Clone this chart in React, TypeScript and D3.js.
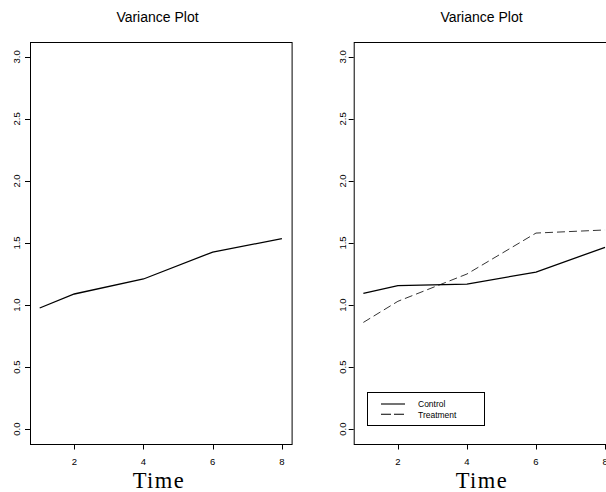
import React from "react";
import * as d3 from "d3";

// Time points and per-group variance estimates
const timePoints = [1, 2, 4, 6, 8];
const pooledVariance = [0.976, 1.089, 1.21, 1.427, 1.535];
const controlVariance = [1.094, 1.156, 1.169, 1.266, 1.465];
const treatmentVariance = [0.86, 1.03, 1.25, 1.58, 1.605];

const xTicks = [2, 4, 6, 8];
const yTicks = [0, 0.5, 1, 1.5, 2, 2.5, 3];
const legendLabels = ["Control", "Treatment"];

const W = 606;
const H = 492;
const TOP = 42;
const BOTTOM = 444;
const SANS = "'Liberation Sans', Arial, Helvetica, sans-serif";
const SERIF = "'Liberation Serif', 'Times New Roman', serif";

const yScale = d3.scaleLinear().domain([-0.12, 3.12]).range([BOTTOM, TOP]);

type Series = { values: number[]; dash?: string; width: number };

function Panel({ left, right, ylabX, titleX, labelX, series, legend }: {
  left: number; right: number; ylabX: number; titleX: number; labelX: number;
  series: Series[]; legend?: boolean;
}) {
  const x = d3.scaleLinear().domain([0.72, 8.28]).range([left, right]);
  const line = (vals: number[]) =>
    d3.line<number>().x((_, i) => x(timePoints[i])).y((v) => yScale(v))(vals) || "";
  return (
    <g>
      <text x={titleX} y={22} textAnchor="middle" fontFamily={SANS} fontSize={14}>Variance Plot</text>
      <rect x={left + 0.5} y={TOP + 0.5} width={right - left} height={BOTTOM - TOP} fill="none" stroke="#000" strokeWidth={1} />
      {yTicks.map((t) => (
        <g key={t}>
          <line x1={left - 5} x2={left} y1={Math.round(yScale(t)) + 0.5} y2={Math.round(yScale(t)) + 0.5} stroke="#000" />
          <text transform={`translate(${ylabX},${yScale(t)}) rotate(-90)`} textAnchor="middle" fontFamily={SANS} fontSize={9.5}>
            {t.toFixed(1)}
          </text>
        </g>
      ))}
      {xTicks.map((t) => (
        <g key={t}>
          <line x1={Math.round(x(t)) + 0.5} x2={Math.round(x(t)) + 0.5} y1={BOTTOM} y2={BOTTOM + 5.5} stroke="#000" />
          <text x={x(t)} y={465} textAnchor="middle" fontFamily={SANS} fontSize={9.5}>{t}</text>
        </g>
      ))}
      {series.map((s, i) => (
        <path key={i} d={line(s.values)} fill="none" stroke="#000" strokeWidth={s.width} strokeDasharray={s.dash} />
      ))}
      <text x={labelX} y={487.5} textAnchor="middle" fontFamily={SERIF} fontSize={22.5} letterSpacing={1.5}>Time</text>
      {legend && (
        <g>
          <rect x={367.5} y={392.5} width={117} height={33} fill="#fff" stroke="#000" />
          {legendLabels.map((lab, i) => (
            <g key={lab}>
              <line x1={381} x2={405} y1={404 + i * 10.3} y2={404 + i * 10.3} stroke="#000" strokeWidth={1.1}
                strokeDasharray={i === 1 ? "10,3" : undefined} />
              <text x={418} y={407.3 + i * 10.3} fontFamily={SANS} fontSize={8.5}>{lab}</text>
            </g>
          ))}
        </g>
      )}
    </g>
  );
}

export default function App() {
  return (
    <svg width={W} height={H} style={{ position: "absolute", left: 0, top: 0, background: "#fff" }}>
      <rect width={W} height={H} fill="#fff" />
      <Panel left={30} right={291.6} ylabX={20} titleX={157.5} labelX={159}
        series={[{ values: pooledVariance, width: 1.3 }]} />
      <Panel left={353.7} right={614.7} ylabX={346} titleX={481.5} labelX={482}
        series={[
          { values: controlVariance, width: 1.3 },
          { values: treatmentVariance, width: 0.8, dash: "8,4" },
        ]} legend />
    </svg>
  );
}
